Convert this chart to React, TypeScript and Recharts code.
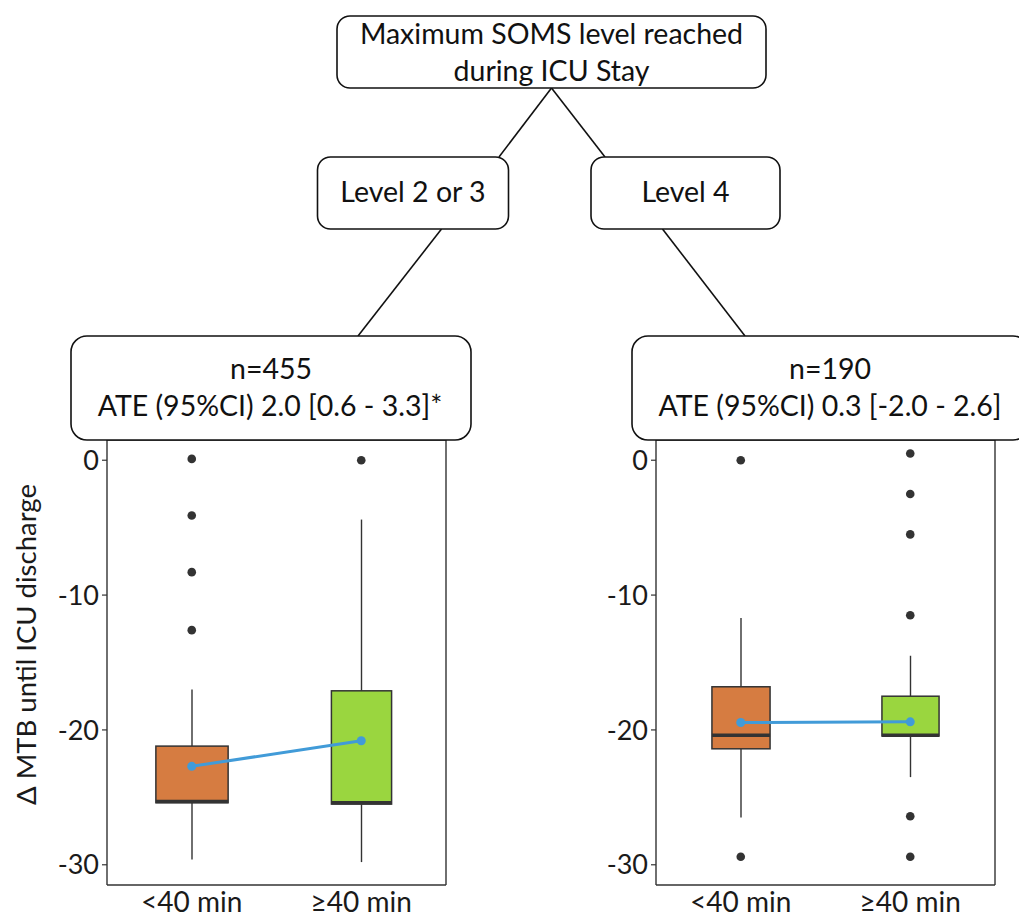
import React from "react";
import {
  ComposedChart,
  Bar,
  Line,
  XAxis,
  YAxis,
  CartesianGrid,
} from "recharts";

// values (Δ MTB until ICU discharge)
const categories = ["<40 min", "≥40 min"];
const yTicks = [0, -10, -20, -30];

// Level 2 or 3
const lowWhiskerL = [-29.6, -29.8];
const q1L = [-25.4, -25.5];
const medianL = [-25.3, -25.4];
const q3L = [-21.2, -17.1];
const highWhiskerL = [-17.0, -4.4];
const meanL = [-22.7, -20.8];
const outliersL = [[0.1, -4.1, -8.3, -12.6], [0.0]];

// Level 4
const lowWhiskerR = [-26.5, -23.5];
const q1R = [-21.4, -20.45];
const medianR = [-20.4, -20.4];
const q3R = [-16.8, -17.5];
const highWhiskerR = [-11.7, -14.5];
const meanR = [-19.45, -19.4];
const outliersR = [[0.0, -29.4], [0.5, -2.5, -5.5, -11.5, -26.4, -29.4]];

const FILLS = ["#d67c41", "#9ad63f"];
const DARK = "#333333";
const BLUE = "#419bd8";
const FONT = "Lato, 'Noto Sans', sans-serif";

function buildRows(lo, q1, med, q3, hi, mean, outs) {
  return categories.map((cat, i) => {
    const row: any = { cat, lo: lo[i], q1: q1[i], med: med[i], q3: q3[i], hi: hi[i], mean: mean[i] };
    for (let k = 0; k < 6; k++) row["o" + k] = outs[i][k] ?? null;
    return row;
  });
}

const rowsL = buildRows(lowWhiskerL, q1L, medianL, q3L, highWhiskerL, meanL, outliersL);
const rowsR = buildRows(lowWhiskerR, q1R, medianR, q3R, highWhiskerR, meanR, outliersR);

function makeBoxShape(widths: number[]) {
  return (props: any) => {
    const { x, y, width, height, payload, index } = props;
    const top = Math.min(y, y + height);
    const h = Math.abs(height);
    const span = payload.hi - payload.lo;
    const py = (v: number) => top + ((payload.hi - v) / span) * h;
    const cx = x + width / 2;
    const bw = width * widths[index];
    return (
      <g>
        <line x1={cx} x2={cx} y1={py(payload.hi)} y2={py(payload.q3)} stroke={DARK} strokeWidth={1.4} />
        <line x1={cx} x2={cx} y1={py(payload.q1)} y2={py(payload.lo)} stroke={DARK} strokeWidth={1.4} />
        <rect
          x={cx - bw / 2}
          y={py(payload.q3)}
          width={bw}
          height={py(payload.q1) - py(payload.q3)}
          fill={FILLS[index]}
          stroke={DARK}
          strokeWidth={1.5}
        />
        <line x1={cx - bw / 2} x2={cx + bw / 2} y1={py(payload.med)} y2={py(payload.med)} stroke={DARK} strokeWidth={3.5} />
      </g>
    );
  };
}

const border = {
  h: ({ offset }: any) => [offset.top, offset.top + offset.height],
  v: ({ offset }: any) => [offset.left, offset.left + offset.width],
};

function Panel({ rows, widths, yWidth, right, yLabel }: any) {
  return (
    <ComposedChart
      width={yWidth + 339 + right}
      height={499}
      data={rows}
      margin={{ top: 20, right, left: 0, bottom: 0 }}
      barCategoryGap={0}
    >
      <CartesianGrid
        stroke={DARK}
        strokeWidth={1.4}
        horizontalCoordinatesGenerator={border.h}
        verticalCoordinatesGenerator={border.v}
      />
      <XAxis
        dataKey="cat"
        axisLine={false}
        tickLine={false}
        height={34}
        tickSize={4}
        tickMargin={3}
        tick={{ fontSize: 28, fill: "#1a1a1a", fontFamily: FONT }}
      />
      <YAxis
        type="number"
        domain={[-31.5, 1.5]}
        ticks={yTicks}
        allowDataOverflow
        width={yWidth}
        axisLine={false}
        tickSize={5}
        tickMargin={3}
        tickLine={{ stroke: DARK, strokeWidth: 1.2 }}
        tick={{ fontSize: 27, fill: "#1a1a1a", fontFamily: FONT }}
        label={
          yLabel
            ? {
                content: (p: any) => {
                  const vb = p.viewBox;
                  const cy = vb.y + vb.height / 2 - 18;
                  return (
                    <text
                      x={25}
                      y={cy}
                      transform={`rotate(-90 25 ${cy})`}
                      textAnchor="middle"
                      dominantBaseline="central"
                      fontSize={27.5}
                      fill="#1a1a1a"
                      fontFamily={FONT}
                    >
                      {yLabel}
                    </text>
                  );
                },
              }
            : undefined
        }
      />
      <Bar
        dataKey={(d: any) => [d.lo, d.hi]}
        shape={makeBoxShape(widths)}
        isAnimationActive={false}
      />
      {[0, 1, 2, 3, 4, 5].map((k) => (
        <Line
          key={k}
          dataKey={"o" + k}
          stroke="none"
          dot={{ r: 4.3, fill: DARK, stroke: "none" }}
          activeDot={false}
          isAnimationActive={false}
        />
      ))}
      <Line
        dataKey="mean"
        stroke={BLUE}
        strokeWidth={3}
        dot={{ r: 4.5, fill: BLUE, stroke: "none" }}
        activeDot={false}
        isAnimationActive={false}
      />
    </ComposedChart>
  );
}

const boxWidthsL = [0.425, 0.354];
const boxWidthsR = [0.342, 0.336];

function Tree() {
  const s = { stroke: "#111", strokeWidth: 1.6 };
  const t = { fontSize: 28.5, fill: "#111", fontFamily: FONT, textAnchor: "middle" as const, dominantBaseline: "central" as const };
  return (
    <svg width={1019} height={919} style={{ position: "absolute", left: 0, top: 0 }}>
      <line x1={551.5} y1={88} x2={499} y2={157} {...s} />
      <line x1={551.5} y1={88} x2={605} y2={157} {...s} />
      <line x1={441.5} y1={229} x2={358} y2={336} {...s} />
      <line x1={662.5} y1={229} x2={745} y2={336} {...s} />
      <rect x={337} y={16} width={429} height={72} rx={13} fill="#fff" {...s} />
      <text x={551.5} y={33} {...t}>Maximum SOMS level reached</text>
      <text x={551.5} y={70} {...t}>during ICU Stay</text>
      <rect x={317.5} y={157} width={191} height={72} rx={13} fill="#fff" {...s} />
      <text x={413} y={191} {...t}>Level 2 or 3</text>
      <rect x={591} y={157} width={189} height={72} rx={13} fill="#fff" {...s} />
      <text x={685.5} y={191} {...t}>Level 4</text>
      <rect x={71} y={336} width={400} height={104} rx={16} fill="#fff" {...s} />
      <text x={271} y={368} {...t}>n=455</text>
      <text x={270} y={405} {...t}>ATE (95%CI) 2.0 [0.6 - 3.3]*</text>
      <rect x={632} y={336} width={397} height={104} rx={16} fill="#fff" {...s} />
      <text x={830} y={368} {...t}>n=190</text>
      <text x={830} y={405} {...t}>ATE (95%CI) 0.3 [-2.0 - 2.6]</text>
    </svg>
  );
}

export default function App() {
  return (
    <div
      style={{
        position: "absolute",
        left: 0,
        top: 0,
        width: 1019,
        height: 919,
        background: "#fff",
        fontFamily: FONT,
        overflow: "hidden",
      }}
    >
      <div style={{ position: "absolute", left: 0, top: 420 }}>
        <Panel rows={rowsL} widths={boxWidthsL} yWidth={107} right={14} yLabel="Δ MTB until ICU discharge" />
      </div>
      <div style={{ position: "absolute", left: 560, top: 420 }}>
        <Panel rows={rowsR} widths={boxWidthsR} yWidth={96} right={24} />
      </div>
      <Tree />
    </div>
  );
}
